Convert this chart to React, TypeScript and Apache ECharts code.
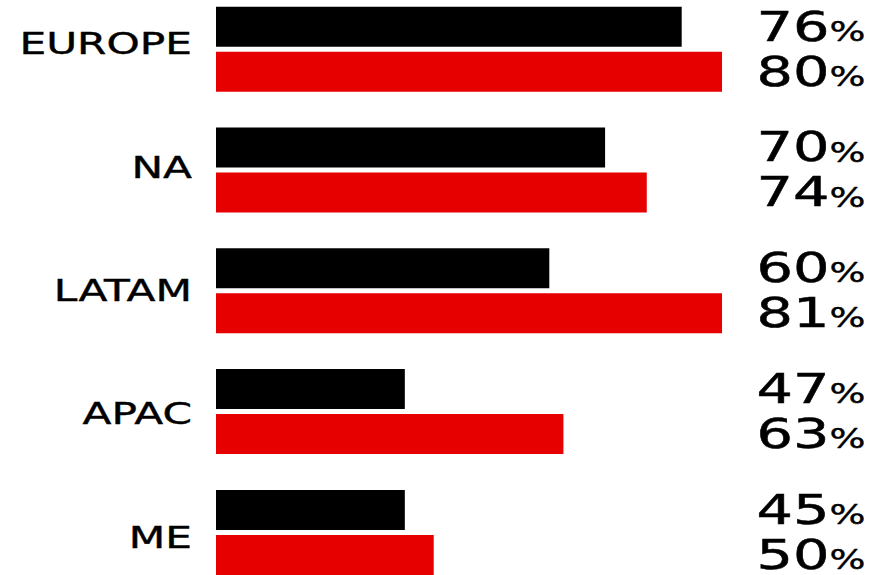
import React, { useEffect, useRef } from 'react';
import * as echarts from 'echarts';

const categories = ['EUROPE', 'NA', 'LATAM', 'APAC', 'ME'];
// bar lengths as drawn (0-100 scale across the plot width)
const blackBarLengths = [69.3, 57.9, 49.6, 28.1, 28.1];
const redBarLengths = [75.3, 64.1, 75.3, 51.7, 32.4];
// printed percentage labels
const blackLabels = [76, 70, 60, 47, 45];
const redLabels = [80, 74, 81, 63, 50];

const FONT = 'DejaVu Sans';
const RED = '#e60000';

export default function App() {
  const ref = useRef<HTMLDivElement>(null);
  useEffect(() => {
    const chart = echarts.init(ref.current!, null, { renderer: 'svg' });
    const rich = {
      n: { fontSize: 41, lineHeight: 34, fontFamily: FONT, fill: '#000', stroke: '#000', lineWidth: 0.5, verticalAlign: 'bottom' },
      p: { fontSize: 27, lineHeight: 20, fontFamily: FONT, fill: '#000', stroke: '#000', lineWidth: 0.4, verticalAlign: 'bottom', padding: [0, 0, 2, 0] },
    };
    const valueText = (x: number, y: number, v: number) => ({
      type: 'text',
      x,
      y,
      scaleX: 1.4,
      style: {
        text: `{n|${v}}{p|%}`,
        rich,
        fill: '#000',
        fontFamily: FONT,
        fontSize: 41,
        align: 'center',
        verticalAlign: 'middle',
      },
    });
    chart.setOption({
      animation: false,
      backgroundColor: '#ffffff',
      grid: [
        { left: 216, right: 0, top: -11.2, height: 604, outerBoundsMode: 'none', containLabel: false },
        { left: 0, right: 0, top: -17.45, height: 616.5, outerBoundsMode: 'none', containLabel: false },
      ],
      xAxis: [
        { type: 'value', min: 0, max: 100, show: false, gridIndex: 0 },
        { type: 'value', min: 0, max: 1, show: false, gridIndex: 1 },
      ],
      yAxis: [
        { type: 'category', data: categories, inverse: true, show: false, gridIndex: 0 },
        { type: 'category', data: categories, inverse: true, show: false, gridIndex: 1 },
      ],
      series: [
        {
          type: 'bar',
          name: 'black',
          data: blackBarLengths,
          barWidth: 40,
          barGap: '12.5%',
          itemStyle: { color: '#000000' },
          xAxisIndex: 0,
          yAxisIndex: 0,
        },
        {
          type: 'bar',
          name: 'red',
          data: redBarLengths,
          barWidth: 40,
          barGap: '12.5%',
          itemStyle: { color: RED },
          xAxisIndex: 0,
          yAxisIndex: 0,
        },
        {
          type: 'custom',
          name: 'values',
          xAxisIndex: 0,
          yAxisIndex: 0,
          clip: false,
          data: categories.map((c, i) => [0, i]),
          renderItem: (params: any, api: any) => {
            const i = api.value(1);
            const cy = api.coord([0, i])[1];
            return {
              type: 'group',
              children: [
                valueText(811, cy - 19, blackLabels[i]),
                valueText(811, cy + 26, redLabels[i]),
              ],
            };
          },
        },
        {
          type: 'custom',
          name: 'categories',
          xAxisIndex: 1,
          yAxisIndex: 1,
          clip: false,
          data: categories.map((c, i) => [0, i]),
          renderItem: (params: any, api: any) => {
            const i = api.value(1);
            const cy = api.coord([0, i])[1];
            return {
              type: 'text',
              x: 192,
              y: cy,
              scaleX: 1.41,
              style: {
                text: categories[i],
                fontSize: 30,
                fontFamily: FONT,
                fill: '#000',
                stroke: '#000',
                lineWidth: 0.4,
                align: 'right',
                verticalAlign: 'middle',
              },
            };
          },
        },
      ],
    });
    return () => chart.dispose();
  }, []);
  return <div ref={ref} style={{ position: 'absolute', left: 0, top: 0, width: 888, height: 575 }} />;
}
